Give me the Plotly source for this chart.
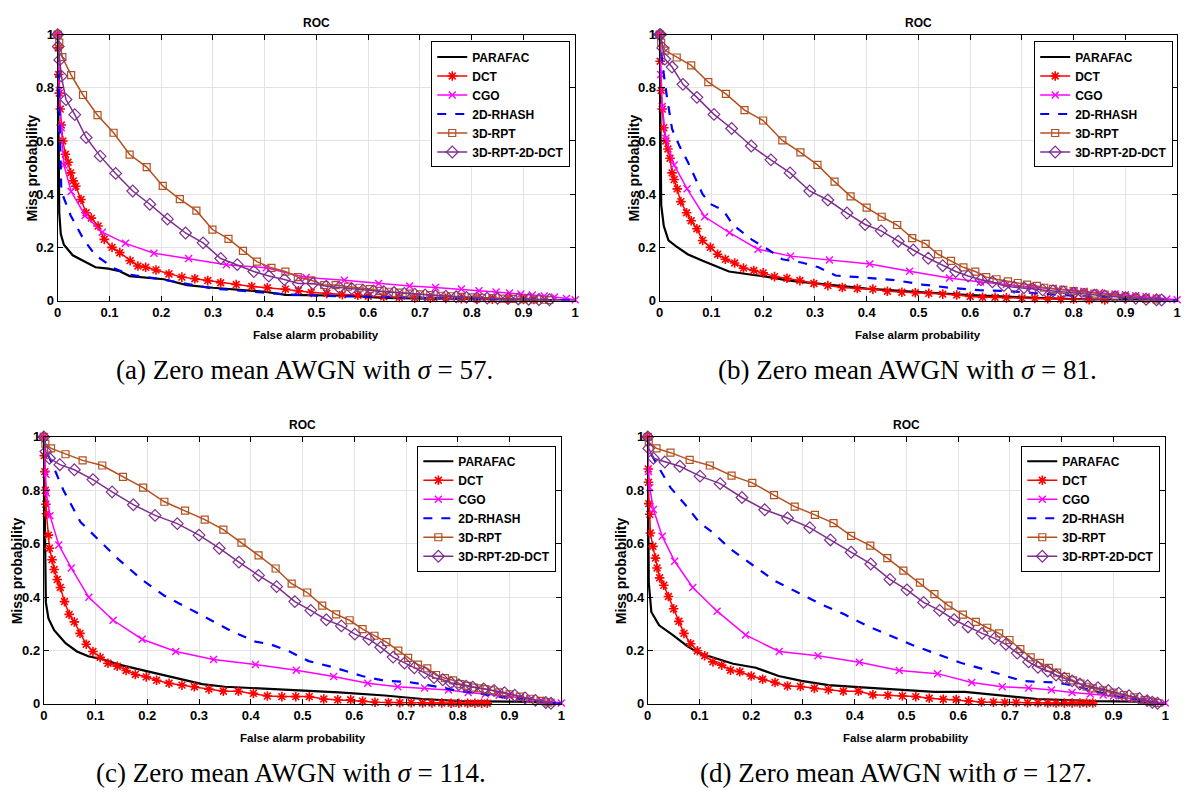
import plotly.graph_objects as go

# ---- (a) sigma = 57 ----
a_parafac_x = [0, 0.002, 0.003, 0.006, 0.012, 0.029, 0.05, 0.073, 0.098, 0.12, 0.139, 0.205, 0.25, 0.30, 0.40, 0.44, 0.56, 0.63, 0.75, 0.85, 1.0]
a_parafac_y = [1, 0.55, 0.33, 0.25, 0.21, 0.17, 0.15, 0.125, 0.12, 0.11, 0.092, 0.08, 0.058, 0.048, 0.033, 0.021, 0.018, 0.01, 0.006, 0.003, 0]
a_dct_x = [0, 0.001, 0.002, 0.003, 0.005, 0.007, 0.01, 0.015, 0.02, 0.025, 0.03, 0.035, 0.045, 0.055, 0.065, 0.078, 0.09, 0.105, 0.12, 0.14, 0.155, 0.17, 0.19, 0.215, 0.24, 0.265, 0.29, 0.315, 0.345, 0.375, 0.405, 0.44, 0.465, 0.49, 0.52, 0.55, 0.58, 0.6, 0.63, 0.66, 0.69, 0.72, 0.75, 0.78, 0.81, 0.84, 0.87, 0.9, 0.92]
a_dct_y = [1, 0.95, 0.85, 0.78, 0.72, 0.66, 0.6, 0.55, 0.52, 0.48, 0.45, 0.43, 0.38, 0.33, 0.31, 0.28, 0.23, 0.2, 0.18, 0.15, 0.13, 0.125, 0.115, 0.1, 0.088, 0.082, 0.075, 0.067, 0.06, 0.053, 0.048, 0.043, 0.037, 0.03, 0.027, 0.022, 0.02, 0.016, 0.014, 0.012, 0.01, 0.009, 0.008, 0.007, 0.006, 0.005, 0.005, 0.004, 0.004]
a_cgo_x = [0, 0.003, 0.007, 0.012, 0.026, 0.053, 0.086, 0.131, 0.186, 0.253, 0.326, 0.403, 0.48, 0.554, 0.62, 0.68, 0.73, 0.78, 0.814, 0.847, 0.873, 0.895, 0.917, 0.94, 0.96, 0.983, 1.0]
a_cgo_y = [1, 0.79, 0.65, 0.51, 0.41, 0.32, 0.257, 0.215, 0.178, 0.158, 0.135, 0.123, 0.087, 0.076, 0.064, 0.055, 0.049, 0.043, 0.037, 0.032, 0.028, 0.025, 0.021, 0.017, 0.013, 0.008, 0.003]
a_rhash_x = [0, 0.004, 0.007, 0.025, 0.05, 0.073, 0.11, 0.14, 0.2, 0.3, 0.4, 0.45, 0.55, 0.7, 0.85, 1.0]
a_rhash_y = [1, 0.7, 0.41, 0.32, 0.23, 0.17, 0.12, 0.097, 0.08, 0.045, 0.03, 0.022, 0.016, 0.01, 0.005, 0]
a_rpt_x = [0, 0.003, 0.009, 0.026, 0.049, 0.077, 0.108, 0.139, 0.172, 0.203, 0.236, 0.268, 0.299, 0.33, 0.358, 0.385, 0.413, 0.44, 0.464, 0.49, 0.515, 0.537, 0.561, 0.583, 0.603, 0.622, 0.64, 0.66, 0.68, 0.7, 0.72, 0.74, 0.76, 0.78, 0.8, 0.82, 0.84, 0.86, 0.88, 0.9, 0.92, 0.94, 0.95]
a_rpt_y = [1, 0.97, 0.915, 0.848, 0.773, 0.697, 0.631, 0.549, 0.502, 0.431, 0.381, 0.338, 0.267, 0.232, 0.187, 0.146, 0.123, 0.109, 0.088, 0.076, 0.058, 0.058, 0.052, 0.048, 0.043, 0.036, 0.033, 0.03, 0.026, 0.023, 0.02, 0.018, 0.016, 0.014, 0.012, 0.01, 0.009, 0.007, 0.006, 0.005, 0.004, 0.003, 0.002]
a_rptdct_x = [0, 0.001, 0.004, 0.007, 0.016, 0.033, 0.055, 0.082, 0.112, 0.145, 0.178, 0.212, 0.247, 0.281, 0.315, 0.347, 0.379, 0.408, 0.438, 0.465, 0.493, 0.519, 0.544, 0.568, 0.59, 0.61, 0.63, 0.65, 0.67, 0.69, 0.71, 0.73, 0.75, 0.77, 0.79, 0.81, 0.83, 0.85, 0.87, 0.89, 0.91, 0.93, 0.95]
a_rptdct_y = [1, 0.955, 0.905, 0.844, 0.756, 0.699, 0.613, 0.543, 0.478, 0.412, 0.362, 0.306, 0.254, 0.217, 0.158, 0.135, 0.109, 0.092, 0.079, 0.064, 0.064, 0.054, 0.049, 0.045, 0.039, 0.036, 0.033, 0.03, 0.027, 0.024, 0.021, 0.018, 0.016, 0.014, 0.012, 0.01, 0.009, 0.008, 0.007, 0.006, 0.005, 0.004, 0.003]

# ---- (b) sigma = 81 ----
b_parafac_x = [0, 0.002, 0.003, 0.008, 0.017, 0.032, 0.054, 0.083, 0.105, 0.134, 0.178, 0.2, 0.25, 0.3, 0.35, 0.4, 0.5, 0.6, 0.7, 0.8, 0.9, 1.0]
b_parafac_y = [1, 0.6, 0.36, 0.28, 0.226, 0.204, 0.174, 0.15, 0.131, 0.109, 0.097, 0.092, 0.075, 0.065, 0.055, 0.045, 0.032, 0.02, 0.012, 0.005, 0.002, 0]
b_dct_x = [0, 0.001, 0.003, 0.005, 0.008, 0.012, 0.016, 0.02, 0.024, 0.028, 0.034, 0.041, 0.052, 0.061, 0.072, 0.083, 0.098, 0.112, 0.127, 0.145, 0.162, 0.182, 0.2, 0.222, 0.246, 0.271, 0.298, 0.325, 0.353, 0.382, 0.412, 0.44, 0.468, 0.494, 0.52, 0.547, 0.574, 0.6, 0.624, 0.648, 0.67, 0.7, 0.725, 0.75, 0.775, 0.8, 0.83, 0.86]
b_dct_y = [1, 0.9, 0.79, 0.72, 0.65, 0.6, 0.57, 0.535, 0.48, 0.455, 0.42, 0.372, 0.33, 0.3, 0.27, 0.226, 0.2, 0.174, 0.155, 0.141, 0.122, 0.113, 0.104, 0.09, 0.084, 0.075, 0.064, 0.056, 0.049, 0.045, 0.043, 0.035, 0.031, 0.029, 0.027, 0.024, 0.021, 0.015, 0.012, 0.012, 0.01, 0.009, 0.008, 0.007, 0.006, 0.005, 0.003, 0.002]
b_cgo_x = [0, 0.002, 0.005, 0.012, 0.028, 0.053, 0.087, 0.135, 0.19, 0.253, 0.328, 0.406, 0.483, 0.56, 0.62, 0.67, 0.72, 0.77, 0.8, 0.82, 0.85, 0.88, 0.9, 0.92, 0.94, 0.96, 0.98, 1.0]
b_cgo_y = [1, 0.85, 0.73, 0.61, 0.51, 0.42, 0.315, 0.255, 0.193, 0.167, 0.152, 0.137, 0.11, 0.085, 0.07, 0.06, 0.05, 0.043, 0.038, 0.035, 0.03, 0.025, 0.022, 0.018, 0.014, 0.01, 0.006, 0.003]
b_rhash_x = [0, 0.006, 0.013, 0.024, 0.039, 0.054, 0.083, 0.098, 0.123, 0.142, 0.178, 0.211, 0.237, 0.274, 0.307, 0.34, 0.398, 0.457, 0.508, 0.56, 0.618, 0.677, 0.729, 0.8, 0.9, 1.0]
b_rhash_y = [1, 0.88, 0.78, 0.645, 0.578, 0.523, 0.4, 0.363, 0.339, 0.284, 0.229, 0.19, 0.155, 0.143, 0.125, 0.094, 0.086, 0.076, 0.06, 0.048, 0.039, 0.035, 0.027, 0.018, 0.01, 0]
b_rpt_x = [0, 0.003, 0.011, 0.033, 0.061, 0.094, 0.128, 0.164, 0.2, 0.237, 0.272, 0.305, 0.338, 0.369, 0.4, 0.429, 0.459, 0.488, 0.514, 0.538, 0.563, 0.587, 0.61, 0.631, 0.651, 0.673, 0.692, 0.71, 0.729, 0.743, 0.76, 0.78, 0.8, 0.82, 0.84, 0.86, 0.88, 0.9, 0.92, 0.94, 0.96]
b_rpt_y = [1, 0.97, 0.94, 0.914, 0.884, 0.821, 0.777, 0.716, 0.677, 0.602, 0.557, 0.51, 0.447, 0.392, 0.349, 0.315, 0.284, 0.235, 0.213, 0.174, 0.149, 0.125, 0.109, 0.088, 0.08, 0.072, 0.066, 0.06, 0.055, 0.048, 0.044, 0.04, 0.035, 0.03, 0.026, 0.022, 0.018, 0.014, 0.01, 0.007, 0.004]
b_rptdct_x = [0, 0.002, 0.006, 0.01, 0.024, 0.045, 0.072, 0.105, 0.139, 0.177, 0.215, 0.252, 0.29, 0.325, 0.362, 0.397, 0.428, 0.461, 0.49, 0.519, 0.547, 0.572, 0.596, 0.621, 0.643, 0.665, 0.685, 0.704, 0.72, 0.74, 0.76, 0.78, 0.8, 0.82, 0.84, 0.86, 0.88, 0.9, 0.92, 0.94, 0.96, 0.97]
b_rptdct_y = [1, 1.0, 0.95, 0.908, 0.878, 0.813, 0.764, 0.7, 0.647, 0.581, 0.529, 0.48, 0.412, 0.378, 0.329, 0.286, 0.262, 0.223, 0.19, 0.159, 0.131, 0.109, 0.092, 0.078, 0.07, 0.056, 0.05, 0.048, 0.044, 0.04, 0.036, 0.032, 0.028, 0.024, 0.02, 0.017, 0.014, 0.011, 0.008, 0.005, 0.003, 0.002]

# ---- (c) sigma = 114 ----
c_parafac_x = [0, 0.002, 0.004, 0.009, 0.02, 0.042, 0.064, 0.086, 0.115, 0.145, 0.196, 0.255, 0.306, 0.35, 0.438, 0.512, 0.57, 0.659, 0.732, 0.805, 0.879, 0.916, 0.96, 1.0]
c_parafac_y = [1, 0.6, 0.38, 0.32, 0.276, 0.227, 0.196, 0.178, 0.166, 0.147, 0.123, 0.096, 0.074, 0.064, 0.055, 0.049, 0.043, 0.031, 0.018, 0.01, 0.009, 0.008, 0.005, 0]
c_dct_x = [0, 0.001, 0.002, 0.003, 0.004, 0.005, 0.009, 0.011, 0.016, 0.02, 0.026, 0.032, 0.04, 0.049, 0.059, 0.07, 0.082, 0.095, 0.109, 0.124, 0.142, 0.159, 0.177, 0.198, 0.218, 0.242, 0.267, 0.291, 0.319, 0.347, 0.376, 0.405, 0.432, 0.46, 0.487, 0.513, 0.541, 0.568, 0.593, 0.616, 0.64, 0.666, 0.688, 0.71, 0.732, 0.75, 0.769, 0.787, 0.802, 0.819, 0.833, 0.846, 0.857]
c_dct_y = [1, 0.93, 0.87, 0.8, 0.748, 0.712, 0.632, 0.583, 0.54, 0.503, 0.466, 0.436, 0.383, 0.335, 0.307, 0.264, 0.223, 0.196, 0.174, 0.152, 0.141, 0.125, 0.11, 0.101, 0.088, 0.077, 0.07, 0.064, 0.055, 0.047, 0.047, 0.039, 0.029, 0.027, 0.027, 0.027, 0.018, 0.015, 0.015, 0.01, 0.006, 0.005, 0.004, 0.004, 0.003, 0.003, 0.003, 0.002, 0.002, 0.002, 0.002, 0.002, 0.002]
c_cgo_x = [0, 0.004, 0.005, 0.012, 0.029, 0.053, 0.087, 0.134, 0.19, 0.255, 0.328, 0.409, 0.488, 0.56, 0.626, 0.684, 0.736, 0.782, 0.82, 0.853, 0.88, 0.9, 0.92, 0.94, 0.96, 0.98, 1.0]
c_cgo_y = [1, 0.86, 0.79, 0.705, 0.595, 0.509, 0.399, 0.313, 0.242, 0.196, 0.166, 0.147, 0.126, 0.102, 0.077, 0.064, 0.059, 0.052, 0.042, 0.037, 0.032, 0.028, 0.022, 0.017, 0.012, 0.006, 0.003]
c_rhash_x = [0, 0.005, 0.016, 0.038, 0.071, 0.112, 0.145, 0.189, 0.233, 0.306, 0.365, 0.409, 0.438, 0.475, 0.512, 0.563, 0.615, 0.659, 0.703, 0.761, 0.798, 0.842, 0.879, 0.92, 0.96, 1.0]
c_rhash_y = [1, 0.945, 0.9, 0.8, 0.681, 0.601, 0.54, 0.466, 0.405, 0.331, 0.27, 0.233, 0.223, 0.196, 0.16, 0.135, 0.104, 0.086, 0.082, 0.064, 0.049, 0.039, 0.027, 0.018, 0.008, 0]
c_rpt_x = [0, 0.003, 0.014, 0.042, 0.075, 0.113, 0.153, 0.192, 0.233, 0.273, 0.311, 0.347, 0.382, 0.415, 0.448, 0.479, 0.509, 0.538, 0.565, 0.591, 0.616, 0.639, 0.662, 0.685, 0.704, 0.723, 0.741, 0.758, 0.775, 0.791, 0.805, 0.819, 0.831, 0.842, 0.853, 0.864, 0.88, 0.9, 0.92, 0.94, 0.96, 0.975]
c_rpt_y = [1, 0.975, 0.957, 0.935, 0.912, 0.893, 0.85, 0.81, 0.757, 0.724, 0.69, 0.653, 0.604, 0.556, 0.507, 0.45, 0.417, 0.368, 0.335, 0.313, 0.28, 0.255, 0.231, 0.199, 0.172, 0.147, 0.133, 0.108, 0.096, 0.088, 0.074, 0.067, 0.061, 0.058, 0.055, 0.05, 0.043, 0.035, 0.027, 0.019, 0.011, 0.005]
c_rptdct_x = [0, 0.004, 0.011, 0.031, 0.059, 0.095, 0.132, 0.173, 0.215, 0.258, 0.3, 0.339, 0.377, 0.415, 0.45, 0.485, 0.516, 0.546, 0.575, 0.601, 0.628, 0.651, 0.675, 0.697, 0.716, 0.736, 0.754, 0.771, 0.787, 0.802, 0.816, 0.829, 0.85, 0.87, 0.89, 0.91, 0.93, 0.95, 0.97, 0.98]
c_rptdct_y = [1, 0.945, 0.92, 0.896, 0.877, 0.84, 0.794, 0.746, 0.706, 0.675, 0.632, 0.583, 0.531, 0.481, 0.439, 0.383, 0.35, 0.315, 0.292, 0.261, 0.242, 0.212, 0.175, 0.153, 0.135, 0.117, 0.098, 0.09, 0.079, 0.072, 0.066, 0.062, 0.056, 0.05, 0.042, 0.032, 0.022, 0.013, 0.005, 0.002]

# ---- (d) sigma = 127 ----
d_parafac_x = [0, 0.002, 0.007, 0.022, 0.048, 0.077, 0.099, 0.128, 0.165, 0.209, 0.253, 0.297, 0.349, 0.422, 0.496, 0.554, 0.613, 0.664, 0.716, 0.753, 0.789, 0.863, 0.95, 1.0]
d_parafac_y = [1, 0.454, 0.344, 0.294, 0.258, 0.215, 0.19, 0.172, 0.15, 0.135, 0.104, 0.086, 0.07, 0.061, 0.053, 0.045, 0.045, 0.034, 0.025, 0.018, 0.015, 0.01, 0.008, 0]
d_dct_x = [0, 0.001, 0.0015, 0.002, 0.004, 0.005, 0.01, 0.015, 0.018, 0.023, 0.031, 0.04, 0.05, 0.06, 0.07, 0.083, 0.096, 0.11, 0.126, 0.143, 0.16, 0.178, 0.2, 0.222, 0.246, 0.27, 0.295, 0.322, 0.349, 0.378, 0.407, 0.435, 0.464, 0.492, 0.518, 0.544, 0.571, 0.596, 0.62, 0.645, 0.668, 0.69, 0.712, 0.734, 0.754, 0.773, 0.789, 0.805, 0.82, 0.835, 0.848, 0.86]
d_dct_y = [1, 0.88, 0.83, 0.75, 0.71, 0.64, 0.59, 0.546, 0.509, 0.472, 0.444, 0.402, 0.356, 0.309, 0.264, 0.225, 0.199, 0.18, 0.157, 0.145, 0.126, 0.12, 0.104, 0.092, 0.08, 0.067, 0.065, 0.058, 0.053, 0.047, 0.047, 0.034, 0.032, 0.029, 0.027, 0.021, 0.017, 0.016, 0.011, 0.007, 0.006, 0.005, 0.005, 0.004, 0.004, 0.003, 0.003, 0.003, 0.003, 0.003, 0.003, 0.003]
d_cgo_x = [0, 0.0015, 0.004, 0.011, 0.028, 0.052, 0.087, 0.134, 0.189, 0.254, 0.329, 0.409, 0.486, 0.56, 0.626, 0.685, 0.736, 0.78, 0.82, 0.855, 0.88, 0.9, 0.92, 0.94, 0.96, 0.98, 1.0]
d_cgo_y = [1, 0.87, 0.81, 0.728, 0.628, 0.534, 0.436, 0.347, 0.258, 0.196, 0.18, 0.156, 0.125, 0.113, 0.08, 0.064, 0.059, 0.052, 0.042, 0.037, 0.033, 0.029, 0.024, 0.018, 0.012, 0.006, 0.003]
d_rhash_x = [0, 0.004, 0.018, 0.044, 0.077, 0.099, 0.128, 0.158, 0.202, 0.246, 0.29, 0.334, 0.378, 0.422, 0.466, 0.51, 0.554, 0.606, 0.65, 0.694, 0.723, 0.745, 0.789, 0.826, 0.855, 0.885, 0.92, 0.96, 1.0]
d_rhash_y = [1, 0.945, 0.896, 0.81, 0.736, 0.681, 0.638, 0.583, 0.521, 0.46, 0.417, 0.374, 0.337, 0.294, 0.258, 0.221, 0.19, 0.153, 0.129, 0.104, 0.086, 0.083, 0.08, 0.067, 0.052, 0.037, 0.024, 0.012, 0]
d_rpt_x = [0, 0.002, 0.017, 0.044, 0.081, 0.12, 0.162, 0.202, 0.244, 0.284, 0.323, 0.359, 0.393, 0.43, 0.463, 0.494, 0.526, 0.554, 0.581, 0.609, 0.634, 0.656, 0.679, 0.699, 0.72, 0.74, 0.758, 0.775, 0.791, 0.808, 0.822, 0.836, 0.848, 0.86, 0.88, 0.9, 0.92, 0.94, 0.96, 0.975, 0.985]
d_rpt_y = [1, 0.98, 0.957, 0.941, 0.914, 0.893, 0.855, 0.828, 0.782, 0.739, 0.708, 0.677, 0.629, 0.593, 0.546, 0.499, 0.454, 0.411, 0.368, 0.334, 0.307, 0.285, 0.264, 0.239, 0.205, 0.174, 0.153, 0.135, 0.117, 0.101, 0.088, 0.076, 0.064, 0.058, 0.05, 0.042, 0.033, 0.024, 0.014, 0.007, 0.003]
d_rptdct_x = [0, 0.002, 0.011, 0.033, 0.062, 0.101, 0.14, 0.182, 0.226, 0.27, 0.313, 0.353, 0.393, 0.431, 0.468, 0.501, 0.533, 0.564, 0.592, 0.619, 0.646, 0.67, 0.692, 0.714, 0.736, 0.754, 0.773, 0.789, 0.805, 0.82, 0.835, 0.85, 0.87, 0.89, 0.91, 0.93, 0.95, 0.965, 0.975, 0.985]
d_rptdct_y = [1, 0.957, 0.92, 0.906, 0.89, 0.853, 0.825, 0.773, 0.727, 0.696, 0.66, 0.614, 0.568, 0.524, 0.466, 0.427, 0.38, 0.35, 0.315, 0.288, 0.264, 0.245, 0.223, 0.19, 0.157, 0.137, 0.123, 0.108, 0.096, 0.086, 0.074, 0.068, 0.06, 0.05, 0.04, 0.03, 0.02, 0.012, 0.006, 0.002]

sigmas = ["57", "81", "114", "127"]
panel_letters = ["a", "b", "c", "d"]
series_names = ["PARAFAC", "DCT", "CGO", "2D-RHASH", "3D-RPT", "3D-RPT-2D-DCT"]
x_ticks = [0, 0.1, 0.2, 0.3, 0.4, 0.5, 0.6, 0.7, 0.8, 0.9, 1]
x_tick_text = ["0", "0.1", "0.2", "0.3", "0.4", "0.5", "0.6", "0.7", "0.8", "0.9", "1"]
y_ticks = [0, 0.2, 0.4, 0.6, 0.8, 1]
y_tick_text = ["0", "0.2", "0.4", "0.6", "0.8", "1"]

panels = [
    [(a_parafac_x, a_parafac_y), (a_dct_x, a_dct_y), (a_cgo_x, a_cgo_y),
     (a_rhash_x, a_rhash_y), (a_rpt_x, a_rpt_y), (a_rptdct_x, a_rptdct_y)],
    [(b_parafac_x, b_parafac_y), (b_dct_x, b_dct_y), (b_cgo_x, b_cgo_y),
     (b_rhash_x, b_rhash_y), (b_rpt_x, b_rpt_y), (b_rptdct_x, b_rptdct_y)],
    [(c_parafac_x, c_parafac_y), (c_dct_x, c_dct_y), (c_cgo_x, c_cgo_y),
     (c_rhash_x, c_rhash_y), (c_rpt_x, c_rpt_y), (c_rptdct_x, c_rptdct_y)],
    [(d_parafac_x, d_parafac_y), (d_dct_x, d_dct_y), (d_cgo_x, d_cgo_y),
     (d_rhash_x, d_rhash_y), (d_rpt_x, d_rpt_y), (d_rptdct_x, d_rptdct_y)],
]

W, H = 1199, 798
OFF = 8  # page body margin that the browser adds round the figure

def px(x):
    return (x - OFF) / W

def py(y):
    return 1 - (y - OFF) / H

# plot boxes in page pixels: left, right, top, bottom
boxes = [(54, 575, 28, 299), (660, 1181, 28, 299), (40, 561, 438, 710), (648, 1169, 438, 710)]
legend_pos = [(570, 35), (1177, 35), (556, 447), (1164, 447)]  # right edge, top
caption_pos = [(302, 370), (910, 370), (289, 781), (898, 781)]
ylabel_x = [28, 634, 13, 621]

SANS = "Liberation Sans, Arial, sans-serif"

styles = [
    dict(mode="lines", line=dict(color="black", width=2.2)),
    dict(mode="lines+markers", line=dict(color="#ff0000", width=1.5),
         marker=dict(symbol="asterisk-open", size=8, line=dict(color="#ff0000", width=1.6))),
    dict(mode="lines+markers", line=dict(color="#ff00ff", width=1.5),
         marker=dict(symbol="x-thin-open", size=7, line=dict(color="#ff00ff", width=1.4))),
    dict(mode="lines", line=dict(color="#0000ff", width=2.2, dash="dash")),
    dict(mode="lines+markers", line=dict(color="#b4501e", width=1.5),
         marker=dict(symbol="square-open", size=7, color="#b4501e", line=dict(width=1.2))),
    dict(mode="lines+markers", line=dict(color="#7e2f8e", width=1.5),
         marker=dict(symbol="diamond-open", size=9, color="#7e2f8e", line=dict(width=1.2))),
]

fig = go.Figure()
annotations = []
layout_extra = {}

for i, series in enumerate(panels):
    n = "" if i == 0 else str(i + 1)
    left, right, top, bottom = boxes[i]
    leg = "legend" if i == 0 else "legend" + str(i + 1)
    for k, (xs, ys) in enumerate(series):
        fig.add_trace(go.Scatter(x=xs, y=ys, name=series_names[k], xaxis="x" + n, yaxis="y" + n,
                                 legend=leg, cliponaxis=False, **styles[k]))

    axis_common = dict(range=[0, 1], showgrid=True, gridcolor="#e3e3e3", gridwidth=1,
                       showline=True, linecolor="black", linewidth=1, mirror="ticks",
                       ticks="inside", ticklen=5, tickcolor="black", zeroline=False,
                       tickfont=dict(family=SANS, size=13, color="black", weight="bold"))
    layout_extra["xaxis" + n] = dict(axis_common, domain=[px(left), px(right)], anchor="y" + n,
                                     tickvals=x_ticks, ticktext=x_tick_text)
    layout_extra["yaxis" + n] = dict(axis_common, domain=[py(bottom), py(top)], anchor="x" + n,
                                     tickvals=y_ticks, ticktext=y_tick_text)
    lx, ly = legend_pos[i]
    layout_extra[leg] = dict(x=px(lx), y=py(ly), xanchor="right", yanchor="top",
                             bgcolor="white", bordercolor="black", borderwidth=1,
                             font=dict(family=SANS, size=12, color="black", weight="bold"),
                             tracegroupgap=0, itemwidth=30)

    cx = px((left + right) / 2)
    base = dict(xref="paper", yref="paper", showarrow=False, xanchor="center", yanchor="middle")
    annotations.append(dict(base, text="<b>ROC</b>", x=cx, y=py(top - 12),
                            font=dict(family=SANS, size=12, color="black")))
    annotations.append(dict(base, text="<b>False alarm probability</b>", x=cx, y=py(bottom + 35),
                            font=dict(family=SANS, size=11.5, color="black")))
    annotations.append(dict(base, text="<b>Miss probability</b>", x=px(ylabel_x[i]), y=py((top + bottom) / 2),
                            textangle=-90, font=dict(family=SANS, size=14, color="black")))
    cpx, cpy = caption_pos[i]
    annotations.append(dict(base, text="(" + panel_letters[i] + ") Zero mean AWGN with <i>σ</i> = " + sigmas[i] + ".",
                            x=px(cpx), y=py(cpy),
                            font=dict(family="Liberation Serif, DejaVu Serif, serif", size=27, color="black")))

fig.update_layout(width=W, height=H, margin=dict(l=0, r=0, t=0, b=0),
                  paper_bgcolor="white", plot_bgcolor="white",
                  annotations=annotations, **layout_extra)

fig.write_html("out.html")
